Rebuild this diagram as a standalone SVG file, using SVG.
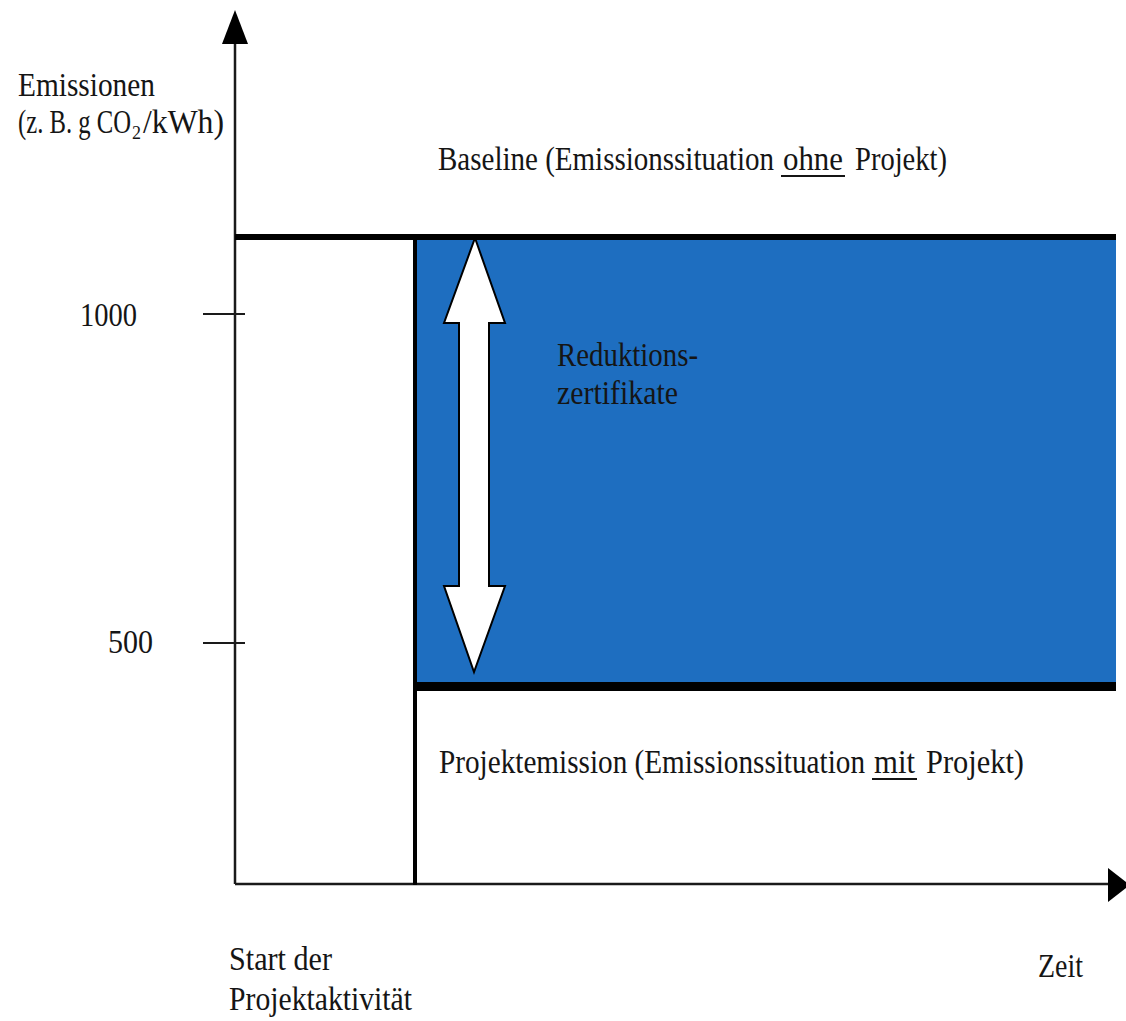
<svg xmlns="http://www.w3.org/2000/svg" width="1126" height="1021" viewBox="0 0 1126 1021">
<style>
text{font-family:"Liberation Serif","DejaVu Serif",serif;font-size:34px;fill:#151515;}
text.sub{font-size:18px;}
.ax{stroke:#1a1a1a;stroke-width:2.5;fill:none;}
.tick{stroke:#1a1a1a;stroke-width:2;}
.ul{stroke:#151515;stroke-width:2;}
</style>
<rect width="1126" height="1021" fill="#fff"/>
<g id="area">
<rect x="415" y="238" width="701" height="446" fill="#1e6ec0"/>
</g>
<g id="connectors">
<line class="ax" x1="235" y1="40" x2="235" y2="884"/>
<polygon points="235,10 222,44 248,44" fill="#000"/>
<line class="ax" x1="235" y1="884" x2="1110" y2="884"/>
<polygon points="1130,885 1108,868 1108,902" fill="#000"/>
<line class="tick" x1="203" y1="314" x2="245" y2="314"/>
<line class="tick" x1="203" y1="643" x2="245" y2="643"/>
<line x1="235" y1="237" x2="1116" y2="237" stroke="#000" stroke-width="6"/>
<line x1="413" y1="686.5" x2="1116" y2="686.5" stroke="#000" stroke-width="9"/>
<line x1="415" y1="237" x2="415" y2="885" stroke="#000" stroke-width="4"/>
</g>
<g id="double-arrow">
<polygon points="475,238 505,323 489,323 489,586 505,586 474,672 444,586 459,586 459,323 444,323" fill="#fff" stroke="#000" stroke-width="2" stroke-linejoin="miter"/>
</g>
<g id="y-label">
<text x="18" y="96" textLength="137" lengthAdjust="spacingAndGlyphs">Emissionen</text>
<text x="18" y="133" textLength="113" lengthAdjust="spacingAndGlyphs">(z. B. g CO</text>
<text class="sub" x="132" y="139">2</text>
<text x="143" y="133" textLength="81" lengthAdjust="spacingAndGlyphs">/kWh)</text>
</g>
<g id="ticks-labels">
<text x="80" y="326" textLength="57" lengthAdjust="spacingAndGlyphs">1000</text>
<text x="108" y="653" textLength="45" lengthAdjust="spacingAndGlyphs">500</text>
</g>
<g id="baseline-label">
<text x="438" y="170" textLength="336" lengthAdjust="spacingAndGlyphs">Baseline (Emissionssituation</text>
<text x="783" y="170" textLength="60" lengthAdjust="spacingAndGlyphs">ohne</text>
<line class="ul" x1="781" y1="176" x2="845" y2="176"/>
<text x="855" y="170" textLength="92" lengthAdjust="spacingAndGlyphs">Projekt)</text>
</g>
<g id="reduction-label">
<text x="557" y="366" textLength="141" lengthAdjust="spacingAndGlyphs">Reduktions-</text>
<text x="557" y="404" textLength="121" lengthAdjust="spacingAndGlyphs">zertifikate</text>
</g>
<g id="project-label">
<text x="439" y="773" textLength="426" lengthAdjust="spacingAndGlyphs">Projektemission (Emissionssituation</text>
<text x="874" y="773" textLength="41" lengthAdjust="spacingAndGlyphs">mit</text>
<line class="ul" x1="872" y1="779" x2="917" y2="779"/>
<text x="926" y="773" textLength="98" lengthAdjust="spacingAndGlyphs">Projekt)</text>
</g>
<g id="start-label">
<text x="229" y="970" textLength="103" lengthAdjust="spacingAndGlyphs">Start der</text>
<text x="229" y="1010" textLength="183" lengthAdjust="spacingAndGlyphs">Projektaktivität</text>
</g>
<g id="time-label">
<text x="1038" y="977" textLength="45" lengthAdjust="spacingAndGlyphs">Zeit</text>
</g>
</svg>
